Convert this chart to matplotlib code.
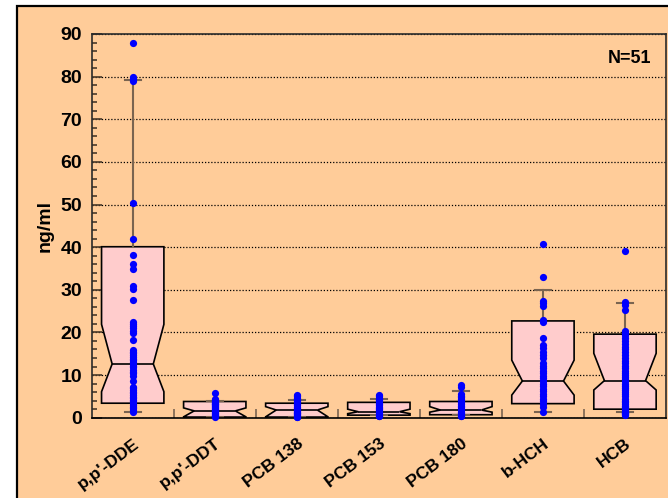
import matplotlib
matplotlib.use('Agg')
import matplotlib.pyplot as plt
from matplotlib.patches import Rectangle
from matplotlib.ticker import MultipleLocator, FixedLocator
import matplotlib.transforms as mtransforms

plt.rcParams['font.family'] = ['Liberation Sans', 'DejaVu Sans']

categories = ["p,p'-DDE", "p,p'-DDT", "PCB 138", "PCB 153", "PCB 180", "b-HCH", "HCB"]

# box statistics (ng/ml)
q1 = [3.4, 0.15, 0.15, 0.6, 0.7, 3.3, 2.0]
med = [12.6, 1.6, 1.8, 1.4, 1.8, 8.6, 8.7]
q3 = [40.1, 3.8, 3.4, 3.6, 3.8, 22.7, 19.6]
cilo = [6.1, 0.2, 0.2, 0.95, 1.3, 5.3, 6.5]
cihi = [21.9, 2.3, 2.6, 2.0, 2.6, 13.5, 15.1]
whislo = [1.4, 0.15, 0.15, 0.6, 0.7, 1.4, 1.4]
whishi = [79.1, 3.8, 4.2, 4.3, 6.3, 30.0, 27.0]

# individual observations
dde = [88.0, 80.0, 79.4, 78.9, 50.3, 42.0, 38.2, 36.0, 34.8, 30.8, 30.3, 27.6,
       22.5, 22.0, 21.5, 21.0, 20.3, 19.8, 18.2, 15.9, 15.5, 15.1, 14.7, 14.3,
       13.8, 13.5, 13.0, 12.6, 12.2, 11.8, 11.2, 10.8, 10.4, 9.8, 8.7, 7.3, 6.9,
       6.5, 6.1, 5.7, 5.3, 4.9, 4.6, 4.2, 3.8, 3.4, 3.0, 2.6, 2.2, 1.8, 1.4]
ddt = [5.7, 4.3, 4.1, 3.9, 3.7, 3.5, 3.3, 3.1, 2.9, 2.7, 2.5, 2.3, 2.1, 1.9,
       1.7, 1.5, 1.3, 1.1, 0.9, 0.7, 0.5, 0.3, 0.1]
pcb138 = [5.3, 5.0, 4.7, 4.4, 4.1, 3.8, 3.5, 3.2, 2.9, 2.6, 2.3, 2.0, 1.8, 1.6,
          1.4, 1.2, 1.0, 0.8, 0.6, 0.4, 0.2, 0.1]
pcb153 = [5.3, 5.0, 4.7, 4.4, 4.1, 3.8, 3.5, 3.2, 2.9, 2.6, 2.3, 2.0, 1.7, 1.4,
          1.1, 0.8, 0.5, 0.3]
pcb180 = [7.7, 7.2, 5.6, 5.2, 4.8, 4.4, 4.0, 3.6, 3.2, 2.8, 2.4, 2.0, 1.7, 1.4,
          1.1, 0.8, 0.5, 0.3]
bhch = [40.7, 33.1, 27.4, 26.9, 26.2, 22.9, 22.4, 18.6, 17.1, 16.3, 15.5, 14.7,
        13.9, 12.8, 12.2, 11.6, 11.0, 10.4, 9.8, 9.2, 8.6, 8.0, 7.4, 6.8, 6.2,
        5.6, 5.0, 4.4, 3.8, 3.2, 2.6, 1.4]
hcb = [39.2, 27.2, 26.5, 25.3, 20.3, 19.8, 19.3, 18.7, 18.0, 17.4, 16.6, 16.0,
       15.3, 14.8, 14.0, 13.4, 12.8, 12.2, 11.6, 11.0, 10.5, 10.0, 9.5, 9.0,
       8.5, 8.0, 7.5, 7.0, 6.5, 6.0, 5.5, 5.0, 4.5, 4.0, 3.6, 3.2, 2.8, 2.4,
       2.0, 1.7, 1.4, 1.2, 1.0, 0.8, 0.6]
points = [dde, ddt, pcb138, pcb153, pcb180, bhch, hcb]

yticks = [0, 10, 20, 30, 40, 50, 60, 70, 80, 90]
n_label = "N=51"

W, H = 668, 498
fig = plt.figure(figsize=(W / 100, H / 100), dpi=100, facecolor='white')
fig.patches.append(Rectangle((17.3 / W, -0.05), 1.05, 1 - 5.5 / H + 0.05,
                             transform=fig.transFigure, facecolor='#FFCC99',
                             edgecolor='black', linewidth=1.6, zorder=-10))

ax = fig.add_axes([91.7 / W, 1 - 417.7 / H, (666 - 91.7) / W, (417.7 - 34) / H])
ax.set_zorder(1)
ax.set_facecolor('#FFCC99')

positions = list(range(1, len(categories) + 1))
stats = []
for i in range(len(categories)):
    stats.append(dict(q1=q1[i], med=med[i], q3=q3[i], cilo=cilo[i], cihi=cihi[i],
                      whislo=whislo[i], whishi=whishi[i], fliers=[], label=categories[i]))

bw = 0.76
wc = '#7a6450'
bp = ax.bxp(stats, positions=positions, widths=bw, shownotches=True,
            patch_artist=True, showfliers=False, capwidths=0.2,
            boxprops=dict(facecolor='#FFCCCC', edgecolor='black', linewidth=1.2),
            medianprops=dict(color='black', linewidth=1.2),
            whiskerprops=dict(color=wc, linewidth=1.5),
            capprops=dict(color=wc, linewidth=1.5))

notch_frac = 0.33
for pos, box, mline in zip(positions, bp['boxes'], bp['medians']):
    v = box.get_path().vertices
    v[3, 0] = pos + notch_frac * bw
    v[8, 0] = pos - notch_frac * bw
    mline.set_xdata([pos - notch_frac * bw, pos + notch_frac * bw])

for pos, vals in zip(positions, points):
    ax.plot([pos] * len(vals), vals, linestyle='none', marker='o', markersize=5.2,
            color='#0000FF', markeredgewidth=0, zorder=5, clip_on=False)

ax.set_xlim(0.5, len(categories) + 0.5)
ax.set_ylim(0, 90)

ax.yaxis.set_major_locator(FixedLocator(yticks))
ax.yaxis.set_minor_locator(MultipleLocator(2))
ax.yaxis.grid(True, which='major', color='black', linestyle=(0, (1, 1.5)), linewidth=0.9)
ax.set_axisbelow(True)
ax.tick_params(axis='y', which='major', direction='in', length=7, width=1.2,
               color='#4a3a2a', labelsize=14, pad=7)
ax.tick_params(axis='y', which='minor', direction='in', length=3.5, width=1.2,
               color='#4a3a2a')
for lab in ax.get_yticklabels():
    lab.set_fontweight('bold')

ax.xaxis.set_major_locator(FixedLocator(positions))
ax.xaxis.set_minor_locator(FixedLocator([p + 0.5 for p in positions[:-1]]))
ax.set_xticklabels(categories)
ax.tick_params(axis='x', which='major', length=0, labelsize=12.5, pad=13)
ax.tick_params(axis='x', which='minor', direction='in', length=6.5, width=1.2, color=wc)
for lab in ax.get_xticklabels():
    lab.set_fontweight('bold')
    lab.set_rotation(37)
    lab.set_ha('right')
    lab.set_va('top')
    lab.set_rotation_mode('anchor')

for s in ['left', 'top', 'right']:
    ax.spines[s].set_color('#2a2a2a')
    ax.spines[s].set_linewidth(1.2)
ax.spines['bottom'].set_color('black')
ax.spines['bottom'].set_linewidth(1.2)
ax.spines['bottom'].set_linestyle((0, (1, 1)))

ax.set_ylabel('ng/ml', fontsize=14, fontweight='bold')
ax.yaxis.set_label_coords(-0.066, 0.5)

ax.text(0.975, 0.935, n_label, transform=ax.transAxes, ha='right', va='center',
        fontsize=13, fontweight='bold')

fig.savefig('out.png', dpi=100, facecolor=fig.get_facecolor())
